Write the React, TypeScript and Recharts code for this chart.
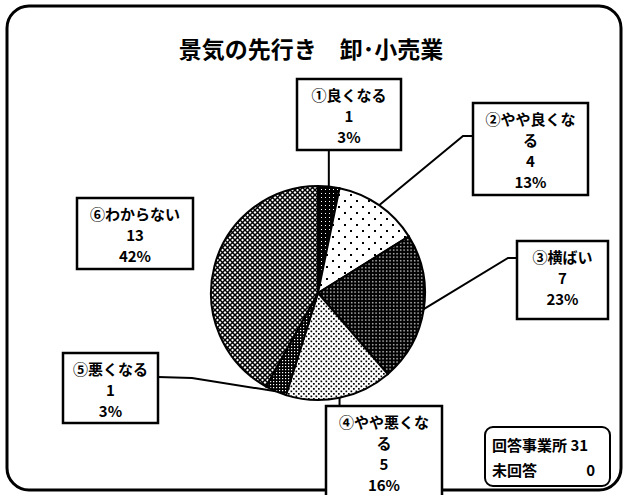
import { Cell, Pie, PieChart } from "recharts";

const TITLE = "景気の先行き\u3000卸･小売業";
const CATEGORIES = ["①良くなる", "②やや良くなる", "③横ばい", "④やや悪くなる", "⑤悪くなる", "⑥わからない"];
const COUNTS = [1, 4, 7, 5, 1, 13];
const RESPONDENTS_LABEL = "回答事業所";
const RESPONDENTS = 31;
const NO_ANSWER_LABEL = "未回答";
const NO_ANSWER = 0;

const W = 627;
const H = 495;
const FONT = '"Noto Sans CJK JP", "Noto Sans", sans-serif';
const RADIAN = Math.PI / 180;
const WRAP = 6;

// one hatch per slice, in category order
const FILLS = ["url(#p-solid)", "url(#p-sparse)", "url(#p-dark)", "url(#p-dense)", "url(#p-check)", "url(#p-cross)"];

type Leader = { kind: "vertical"; y: number } | { kind: "points"; pts: [number, number][] } | { kind: "none" };

// callout boxes (layout only)
const BOXES: { x: number; y: number; w: number; h: number; leader: Leader }[] = [
  { x: 297, y: 79, w: 104, h: 71, leader: { kind: "vertical", y: 150 } },
  { x: 473, y: 103, w: 115, h: 92, leader: { kind: "points", pts: [[463, 136], [473, 136]] } },
  { x: 517, y: 241, w: 91, h: 78, leader: { kind: "points", pts: [[508, 258], [517, 258]] } },
  { x: 326, y: 406, w: 116, h: 100, leader: { kind: "vertical", y: 406 } },
  { x: 63, y: 353, w: 95, h: 70, leader: { kind: "points", pts: [[192, 378], [158, 377]] } },
  { x: 77, y: 198, w: 116, h: 71, leader: { kind: "none" } },
];

const data = CATEGORIES.map((name, i) => ({ name, value: COUNTS[i] }));

function wrap(s: string) {
  const out: string[] = [];
  for (let i = 0; i < s.length; i += WRAP) out.push(s.slice(i, i + WRAP));
  return out;
}

function CalloutLabel(props: any) {
  const { cx, cy, midAngle, outerRadius, index, percent, value, name } = props;
  const box = BOXES[index];
  if (!box) return null;
  const ax = cx + outerRadius * Math.cos(-midAngle * RADIAN);
  const ay = cy + outerRadius * Math.sin(-midAngle * RADIAN);
  let line: string | null = null;
  if (box.leader.kind === "vertical") line = `M${ax},${ay} L${ax},${box.leader.y}`;
  if (box.leader.kind === "points") line = `M${ax},${ay} ` + box.leader.pts.map(([x, y]) => `L${x},${y}`).join(" ");
  const lines = [...wrap(String(name)), String(value), `${Math.round(percent * 100)}%`];
  return (
    <g>
      {line && <path d={line} stroke="#000" strokeWidth={2} fill="none" />}
      <rect x={box.x} y={box.y} width={box.w} height={box.h} fill="#fff" stroke="#000" strokeWidth={2.5} />
      {lines.map((t, i) => (
        <text
          key={i}
          x={box.x + box.w / 2}
          y={box.y + 15 + i * 21}
          textAnchor="middle"
          dominantBaseline="central"
          fontFamily={FONT}
          fontSize={15}
          fontWeight={700}
          fill="#000"
        >
          {t}
        </text>
      ))}
    </g>
  );
}

export default function App() {
  return (
    <div style={{ position: "absolute", left: 0, top: 0, width: W, height: H, background: "#fff", overflow: "hidden" }}>
      <svg width={W} height={H} style={{ position: "absolute", left: 0, top: 0 }}>
        <defs>
          <pattern id="p-solid" width="4" height="4" patternUnits="userSpaceOnUse">
            <rect width="4" height="4" fill="#000" />
            <rect x="1" y="1" width="1" height="1" fill="#fff" />
          </pattern>
          <pattern id="p-sparse" width="12" height="12" patternUnits="userSpaceOnUse">
            <rect width="12" height="12" fill="#fff" />
            <rect x="2" y="2" width="2" height="2" fill="#000" />
            <rect x="8" y="8" width="2" height="2" fill="#000" />
          </pattern>
          <pattern id="p-dark" width="3.5" height="3.5" patternUnits="userSpaceOnUse">
            <rect width="3.5" height="3.5" fill="#000" />
            <rect x="1" y="1" width="1.3" height="1.3" fill="#fff" />
          </pattern>
          <pattern id="p-dense" width="5" height="5" patternUnits="userSpaceOnUse">
            <rect width="5" height="5" fill="#fff" />
            <rect x="0.5" y="0.5" width="1.7" height="1.7" fill="#000" />
            <rect x="3" y="3" width="1.7" height="1.7" fill="#000" />
          </pattern>
          <pattern id="p-check" width="3" height="3" patternUnits="userSpaceOnUse">
            <rect width="3" height="3" fill="#000" />
            <rect x="0" y="0" width="1.2" height="1.2" fill="#fff" />
          </pattern>
          <pattern id="p-cross" width="5" height="5" patternUnits="userSpaceOnUse">
            <rect width="5" height="5" fill="#fff" />
            <path d="M0,0 L5,5 M5,0 L0,5" stroke="#000" strokeWidth={1.5} />
          </pattern>
        </defs>
        <rect x={7} y={6} width={614} height={484} rx={22} fill="#fff" stroke="#000" strokeWidth={3} />
        <text x={311} y={48} textAnchor="middle" dominantBaseline="central" fontFamily={FONT} fontSize={23} fontWeight={700}>
          {TITLE}
        </text>
        <rect x={485} y={427} width={125} height={59} rx={8} fill="#fff" stroke="#000" strokeWidth={2} />
        <text x={492} y={444} dominantBaseline="central" fontFamily={FONT} fontSize={15} fontWeight={700}>
          {RESPONDENTS_LABEL} {RESPONDENTS}
        </text>
        <text x={492} y={469} dominantBaseline="central" fontFamily={FONT} fontSize={15} fontWeight={700}>
          {NO_ANSWER_LABEL}
        </text>
        <text x={595} y={469} textAnchor="end" dominantBaseline="central" fontFamily={FONT} fontSize={15} fontWeight={700}>
          {NO_ANSWER}
        </text>
      </svg>
      <div style={{ position: "absolute", left: 0, top: 0 }}>
        <PieChart width={W} height={H} margin={{ top: 0, right: 0, bottom: 0, left: 0 }}>
          <Pie
            data={data}
            dataKey="value"
            nameKey="name"
            cx={318}
            cy={293}
            outerRadius={107}
            startAngle={90}
            endAngle={-270}
            stroke="#000"
            strokeWidth={2}
            label={CalloutLabel}
            labelLine={false}
            isAnimationActive={false}
          >
            {data.map((d, i) => (
              <Cell key={d.name} fill={FILLS[i]} />
            ))}
          </Pie>
        </PieChart>
      </div>
    </div>
  );
}
